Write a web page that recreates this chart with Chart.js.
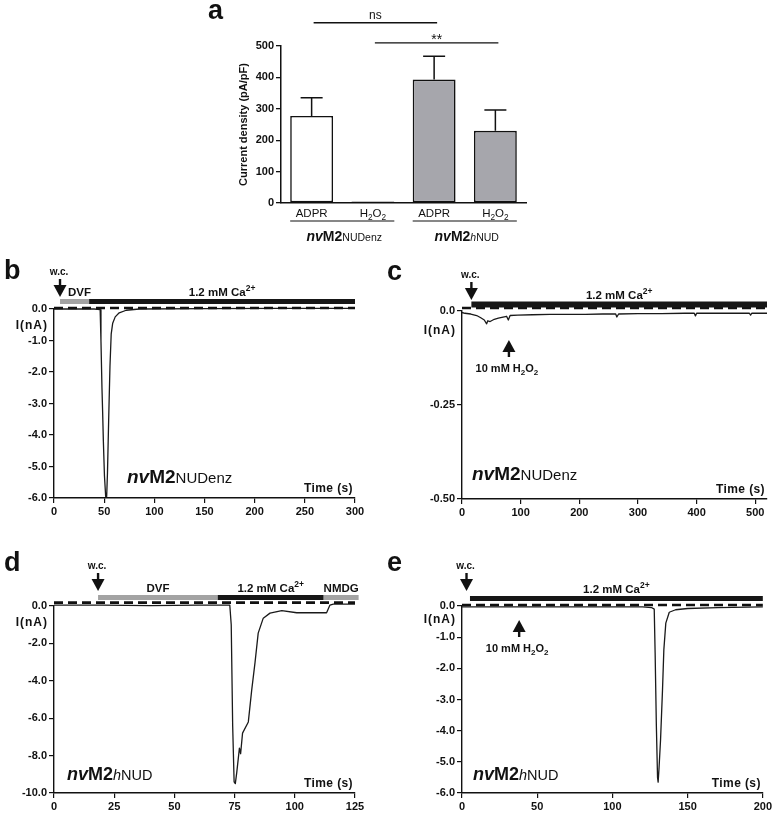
<!DOCTYPE html>
<html>
<head>
<meta charset="utf-8">
<script src="https://cdn.jsdelivr.net/npm/chart.js@4.4.1/dist/chart.umd.min.js"></script>
<style>
  body { margin: 0; background: #fff; width: 774px; height: 817px; position: relative; overflow: hidden; }
  canvas { position: absolute; }
</style>
</head>
<body>
<canvas id="pa" width="340" height="245" style="left:200px;top:0;width:340px;height:245px"></canvas>
<canvas id="pb" width="370" height="265" style="left:0;top:255px;width:370px;height:265px"></canvas>
<canvas id="pc" width="394" height="265" style="left:380px;top:255px;width:394px;height:265px"></canvas>
<canvas id="pd" width="370" height="277" style="left:0;top:540px;width:370px;height:277px"></canvas>
<canvas id="pe" width="394" height="277" style="left:380px;top:540px;width:394px;height:277px"></canvas>
<script>
/* ---- panel a: current density bars ---- */
const A_CATS = ["ADPR", "H2O2", "ADPR", "H2O2"];
const A_GROUPS = ["nvM2NUDenz", "nvM2hNUD"];
const A_MEAN = [277, 5, 393, 230];
const A_SEM = [58, 0, 74, 66];
const A_TICKS = [0, 100, 200, 300, 400, 500];
const A_SIG_FROM = [0, 1];
const A_SIG_TO = [2, 3];
const A_SIG_TEXT = ["ns", "**"];

/* ---- panel b: nvM2NUDenz, DVF then Ca2+ ---- */
const B_TIME = [0, 20, 40, 46, 46.8, 47.8, 48.5, 49.2, 50.3, 51.5, 52.5, 53.3, 54.5, 55.8, 57, 58.5, 61, 65, 72, 85, 150, 220, 300];
const B_CURRENT = [0, 0, 0, -0.02, -1.0, -2.5, -3.3, -4.2, -5.3, -5.95, -5.95, -5.2, -3.5, -1.8, -0.8, -0.45, -0.25, -0.12, -0.04, 0, 0.01, 0.02, 0.02];
const B_SOL = ["DVF", "Ca"];
const B_SOL_START = [6, 35];
const B_SOL_END = [35, 300];
const B_WC = 6;
const B_ZERO = 0.03;

/* ---- panel c: nvM2NUDenz, H2O2 ---- */
const C_TIME = [0, 5, 15, 25, 32, 38, 42, 44, 48, 55, 62, 70, 76, 79, 82, 95, 120, 150, 180, 210, 240, 262, 264, 267, 300, 340, 380, 396, 398, 400, 430, 470, 490, 492, 494, 520];
const C_CURRENT = [-0.004, -0.006, -0.008, -0.012, -0.018, -0.024, -0.034, -0.026, -0.028, -0.022, -0.019, -0.016, -0.014, -0.024, -0.012, -0.011, -0.01, -0.009, -0.009, -0.009, -0.008, -0.008, -0.016, -0.008, -0.007, -0.007, -0.006, -0.006, -0.013, -0.006, -0.006, -0.006, -0.006, -0.011, -0.006, -0.006];
const C_SOL = ["Ca"];
const C_SOL_START = [16];
const C_SOL_END = [520];
const C_WC = 16;
const C_H2O2 = 80;
const C_ZERO = 0.008;

/* ---- panel d: nvM2hNUD, DVF / Ca2+ / NMDG ---- */
const D_TIME = [0, 20, 40, 60, 73, 73.6, 74.2, 74.8, 75.3, 75.9, 77.0, 77.5, 78.3, 80.7, 82.1, 83.5, 84.8, 86.9, 89.7, 94.6, 100.8, 107, 113.2, 114.6, 116, 125];
const D_CURRENT = [0.05, 0.05, 0.02, 0.05, 0.05, -1.0, -6.4, -9.4, -9.5, -8.9, -7.6, -7.9, -6.8, -6.2, -4.5, -3.0, -1.45, -0.65, -0.38, -0.25, -0.36, -0.36, -0.36, 0.05, 0.1, 0.1];
const D_SOL = ["DVF", "Ca", "NMDG"];
const D_SOL_START = [18.3, 68, 112];
const D_SOL_END = [68, 112, 126.5];
const D_WC = 18.3;
const D_ZERO = 0.18;

/* ---- panel e: nvM2hNUD, H2O2 ---- */
const E_TIME = [0, 50, 100, 120, 126, 127.8, 128.4, 129.2, 130.0, 130.4, 131, 132, 133.3, 134.2, 135.5, 137.8, 142, 150, 170, 200];
const E_CURRENT = [-0.03, -0.03, -0.03, -0.03, -0.05, -0.1, -1.5, -3.8, -5.5, -5.65, -5.2, -4.3, -2.7, -1.4, -0.55, -0.2, -0.12, -0.08, -0.05, -0.03];
const E_SOL = ["Ca"];
const E_SOL_START = [5.3];
const E_SOL_END = [200];
const E_WC = 3;
const E_H2O2 = 38;
const E_ZERO = 0.03;

/* ---- drawing helpers ---- */
const FF = '"Liberation Sans", Arial, Helvetica, sans-serif';
const INK = "#111";
const f = (size, weight, style) => `${style || "normal"} ${weight || "bold"} ${size}px ${FF}`;

function rich(ctx, segs, x, y, align) {
  let w = 0;
  segs.forEach(s => { ctx.font = s[1]; w += ctx.measureText(s[0]).width; });
  let cx = align === "center" ? x - w / 2 : align === "right" ? x - w : x;
  ctx.textAlign = "left"; ctx.textBaseline = "alphabetic";
  segs.forEach(s => { ctx.font = s[1]; ctx.fillText(s[0], cx, y + (s[2] || 0)); cx += ctx.measureText(s[0]).width; });
}
function nameSegs(name, big, small) {
  const rest = name.slice(4);
  const segs = [["nv", f(big, "bold", "italic")], ["M2", f(big)]];
  if (rest[0] === "h") { segs.push(["h", f(small, "normal", "italic")]); segs.push([rest.slice(1), f(small, "normal")]); }
  else segs.push([rest, f(small, "normal")]);
  return segs;
}
function chemSegs(txt, size, weight) {
  // digits after a letter become subscripts (H2O2)
  const segs = [];
  for (const ch of txt) {
    if (/[0-9]/.test(ch)) segs.push([ch, f(size * 0.72, weight), size * 0.28]);
    else segs.push([ch, f(size, weight)]);
  }
  return segs;
}
function arrow(ctx, x, tipY, len, dir) {
  const head = 12, hw = 6.5, tail = tipY - dir * len, base = tipY - dir * head;
  ctx.strokeStyle = INK; ctx.fillStyle = INK; ctx.lineWidth = 2.4;
  ctx.beginPath(); ctx.moveTo(x, tail); ctx.lineTo(x, base); ctx.stroke();
  ctx.beginPath(); ctx.moveTo(x, tipY); ctx.lineTo(x - hw, base); ctx.lineTo(x + hw, base); ctx.closePath(); ctx.fill();
}
const SOL_STYLE = {
  DVF: { color: "#a3a3a3", segs: [["DVF", f(11.5)]] },
  Ca: { color: "#161616", segs: [["1.2 mM Ca", f(11.5)], ["2+", f(8.5), -5]] },
  NMDG: { color: "#a3a3a3", segs: [["NMDG", f(11.5)]] },
};

/* ---- panel a ---- */
const barDecor = {
  id: "barDecor",
  afterDraw(chart) {
    const { ctx, chartArea: a, scales: { y } } = chart;
    const bars = chart.getDatasetMeta(0).data;
    ctx.save();
    ctx.strokeStyle = INK; ctx.fillStyle = INK; ctx.lineWidth = 1.5;
    // SEM (upper only)
    bars.forEach((b, i) => {
      if (!A_SEM[i]) return;
      const y0 = y.getPixelForValue(A_MEAN[i]), y1 = y.getPixelForValue(A_MEAN[i] + A_SEM[i]);
      ctx.beginPath(); ctx.moveTo(b.x, y0); ctx.lineTo(b.x, y1);
      ctx.moveTo(b.x - 11, y1); ctx.lineTo(b.x + 11, y1); ctx.stroke();
    });
    // significance lines
    const levels = [574, 510];
    A_SIG_TEXT.forEach((t, k) => {
      const x0 = bars[A_SIG_FROM[k]].x + 2, x1 = bars[A_SIG_TO[k]].x + 3, ly = y.getPixelForValue(levels[k]);
      ctx.lineWidth = 1.3;
      ctx.beginPath(); ctx.moveTo(x0, ly); ctx.lineTo(x1, ly); ctx.stroke();
      ctx.textAlign = "center"; ctx.textBaseline = "alphabetic";
      if (t === "ns") { ctx.font = f(12, "normal"); ctx.fillText(t, (x0 + x1) / 2, ly - 4); }
      else { ctx.font = f(14, "normal"); ctx.fillText(t, (x0 + x1) / 2, ly + 1); }
    });
    // category labels
    bars.forEach((b, i) => rich(ctx, chemSegs(A_CATS[i], 11.5, "normal"), b.x, a.bottom + 14, "center"));
    // group underlines + names
    A_GROUPS.forEach((g, k) => {
      const l = bars[2 * k], r = bars[2 * k + 1];
      const x0 = l.x - l.width / 2, x1 = r.x + r.width / 2;
      ctx.lineWidth = 1.2;
      ctx.beginPath(); ctx.moveTo(x0, a.bottom + 18); ctx.lineTo(x1, a.bottom + 18); ctx.stroke();
      rich(ctx, nameSegs(g, 14, 10.5), (x0 + x1) / 2 + 2, a.bottom + 38, "center");
    });
    // axis title
    ctx.save();
    ctx.translate(a.left - 37, (a.top + a.bottom) / 2); ctx.rotate(-Math.PI / 2);
    ctx.font = f(11); ctx.textAlign = "center"; ctx.textBaseline = "middle";
    ctx.fillText("Current density (pA/pF)", 0, 0);
    ctx.restore();
    ctx.font = f(27); ctx.textAlign = "left"; ctx.fillText("a", 8, 19);
    ctx.restore();
  }
};

new Chart(document.getElementById("pa"), {
  type: "bar",
  data: {
    labels: A_CATS,
    datasets: [{
      data: A_MEAN,
      backgroundColor: ["#ffffff", "#ffffff", "#a6a6ac", "#a6a6ac"],
      borderColor: INK, borderWidth: 1.6, borderSkipped: false,
      barPercentage: 0.7, categoryPercentage: 1,
    }],
  },
  options: {
    responsive: false, animation: false, events: [],
    layout: { padding: { top: 46, right: 14, left: 0, bottom: 0 } },
    plugins: { legend: { display: false }, tooltip: { enabled: false } },
    scales: {
      x: {
        grid: { display: false }, ticks: { display: false },
        border: { color: INK, width: 1.5 },
        afterFit(s) { s.height = 42; },
      },
      y: {
        min: 0, max: 500,
        afterBuildTicks(s) { s.ticks = A_TICKS.map(v => ({ value: v })); },
        ticks: { color: INK, font: { family: FF, size: 11, weight: "bold" }, padding: 2 },
        grid: { drawOnChartArea: false, tickLength: 5, color: INK, lineWidth: 1.3 },
        border: { color: INK, width: 1.5 },
        afterFit(s) { s.width = 81; },
      },
    },
  },
  plugins: [barDecor],
});

/* ---- panels b-e: current traces ---- */
function tracePlugin(p) {
  return {
    id: "traceDecor",
    afterDraw(chart) {
      const { ctx, chartArea: a, scales: { x } } = chart;
      ctx.save();
      // solution bars
      p.sol.forEach((n, k) => {
        const x0 = x.getPixelForValue(p.solStart[k]), x1 = x.getPixelForValue(p.solEnd[k]);
        const cy = a.top - p.barOff;
        ctx.fillStyle = SOL_STYLE[n].color;
        ctx.fillRect(x0, cy - p.barH / 2, x1 - x0, p.barH);
        ctx.fillStyle = INK;
        rich(ctx, SOL_STYLE[n].segs, (x0 + x1) / 2 + (p.lblShift ? p.lblShift[k] : 0), cy - p.barH / 2 - 3, "center");
      });
      // whole-cell arrow
      const wx = x.getPixelForValue(p.wc), tip = a.top - p.wcTip;
      arrow(ctx, wx, tip, 18, 1);
      ctx.fillStyle = INK; ctx.font = f(10); ctx.textAlign = "center"; ctx.textBaseline = "alphabetic";
      ctx.fillText("w.c.", wx - 1, tip - 22);
      // H2O2 application
      if (p.h2o2 != null) {
        const hx = x.getPixelForValue(p.h2o2), ht = a.top + p.hTip;
        arrow(ctx, hx, ht, 17, -1);
        ctx.fillStyle = INK;
        rich(ctx, [["10 mM H", f(11)], ["2", f(8), 3], ["O", f(11)], ["2", f(8), 3]], hx - 2, ht + 32, "center");
      }
      // axis texts
      ctx.fillStyle = INK; ctx.font = f(12); ctx.letterSpacing = "1px"; ctx.textAlign = "right"; ctx.textBaseline = "middle";
      ctx.fillText("I(nA)", a.left - 6, a.top + p.iOff);
      ctx.letterSpacing = "0.4px"; ctx.textBaseline = "alphabetic";
      ctx.fillText("Time (s)", a.right - 2, a.bottom - 6);
      ctx.letterSpacing = "0px";
      rich(ctx, nameSegs(p.name, p.nameBig, p.nameSmall), a.left + p.nameX, a.bottom - p.nameY, "left");
      ctx.font = f(27); ctx.textAlign = "left"; ctx.fillText(p.letter, p.letterX, p.letterY);
      ctx.restore();
    }
  };
}

function traceChart(id, p) {
  const tickFont = { family: FF, size: 11, weight: "bold" };
  return new Chart(document.getElementById(id), {
    type: "line",
    data: {
      datasets: [
        { data: [{ x: 0, y: p.zero }, { x: p.xMax, y: p.zero }], borderColor: INK, borderWidth: 2.6, borderDash: [9, 5], pointRadius: 0, clip: false },
        { data: p.t.map((t, k) => ({ x: t, y: p.i[k] })), borderColor: "#1a1a1a", borderWidth: 1.3, borderJoinStyle: "round", pointRadius: 0, tension: 0, clip: false },
      ],
    },
    options: {
      responsive: false, animation: false, events: [],
      layout: { padding: { top: p.padTop, right: p.padRight, left: 0, bottom: 0 } },
      plugins: { legend: { display: false }, tooltip: { enabled: false } },
      scales: {
        x: {
          type: "linear", min: 0, max: p.xMax,
          ticks: { stepSize: p.xStep, includeBounds: false, color: INK, font: tickFont, padding: 2, maxRotation: 0, autoSkip: false },
          grid: { drawOnChartArea: false, tickLength: 5, color: INK, lineWidth: 1.2 },
          border: { color: INK, width: 1.4 },
          afterFit(s) { s.height = p.xH; },
        },
        y: {
          min: p.yMin, max: 0,
          ticks: { stepSize: p.yStep, color: INK, font: tickFont, padding: 2, callback: v => (v === 0 ? "0.0" : v.toFixed(p.yDec)) },
          grid: { drawOnChartArea: false, tickLength: 5, color: INK, lineWidth: 1.2 },
          border: { color: INK, width: 1.4 },
          afterFit(s) { s.width = p.yW; },
        },
      },
    },
    plugins: [tracePlugin(p)],
  });
}

traceChart("pb", {
  t: B_TIME, i: B_CURRENT, sol: B_SOL, solStart: B_SOL_START, solEnd: B_SOL_END, wc: B_WC, h2o2: null, zero: B_ZERO,
  xMax: 300, xStep: 50, yMin: -6, yStep: 1, yDec: 1,
  padTop: 54, padRight: 15, yW: 54, xH: 22,
  barOff: 7.5, barH: 5, lblShift: [5, 0], wcTip: 12, iOff: 17,
  name: "nvM2NUDenz", nameBig: 19, nameSmall: 15, nameX: 73, nameY: 15,
  letter: "b", letterX: 4, letterY: 24,
});
traceChart("pc", {
  t: C_TIME, i: C_CURRENT, sol: C_SOL, solStart: C_SOL_START, solEnd: C_SOL_END, wc: C_WC, h2o2: C_H2O2, zero: C_ZERO,
  xMax: 520, xStep: 100, yMin: -0.5, yStep: 0.25, yDec: 2,
  padTop: 56, padRight: 7, yW: 82, xH: 21,
  barOff: 6.5, barH: 6, wcTip: 11, hTip: 29, iOff: 20,
  name: "nvM2NUDenz", nameBig: 19, nameSmall: 15, nameX: 10, nameY: 19,
  letter: "c", letterX: 7, letterY: 25,
});
traceChart("pd", {
  t: D_TIME, i: D_CURRENT, sol: D_SOL, solStart: D_SOL_START, solEnd: D_SOL_END, wc: D_WC, h2o2: null, zero: D_ZERO,
  xMax: 125, xStep: 25, yMin: -10, yStep: 2, yDec: 1,
  padTop: 66, padRight: 15, yW: 54, xH: 24,
  barOff: 8.5, barH: 5, wcTip: 15, iOff: 17,
  name: "nvM2hNUD", nameBig: 18, nameSmall: 14.5, nameX: 13, nameY: 13,
  letter: "d", letterX: 4, letterY: 31,
});
traceChart("pe", {
  t: E_TIME, i: E_CURRENT, sol: E_SOL, solStart: E_SOL_START, solEnd: E_SOL_END, wc: E_WC, h2o2: E_H2O2, zero: E_ZERO,
  xMax: 200, xStep: 50, yMin: -6, yStep: 1, yDec: 1,
  padTop: 66, padRight: 11, yW: 82, xH: 24,
  barOff: 7.5, barH: 5, wcTip: 15, hTip: 14, iOff: 14,
  name: "nvM2hNUD", nameBig: 18, nameSmall: 14.5, nameX: 11, nameY: 13,
  letter: "e", letterX: 7, letterY: 31,
});
</script>
</body>
</html>
